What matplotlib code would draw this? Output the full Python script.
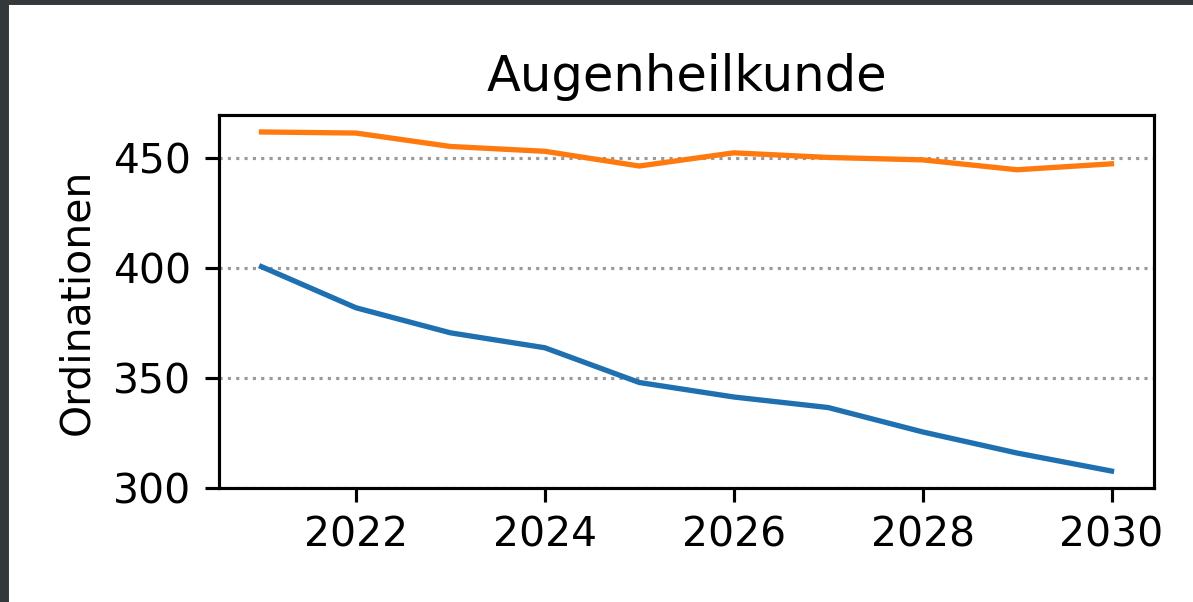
import matplotlib.pyplot as plt
from matplotlib.patches import Rectangle

jahre = [2021, 2022, 2023, 2024, 2025, 2026, 2027, 2028, 2029, 2030]
serie_blau = [400.5, 381.8, 370.4, 363.6, 347.8, 341.2, 336.4, 325.3, 315.7, 307.5]
serie_orange = [461.8, 461.3, 455.2, 453.0, 446.3, 452.3, 450.2, 449.1, 444.6, 447.3]

plt.rcParams['font.size'] = 10.4

DPI = 283
fig = plt.figure(figsize=(1193 / DPI, 602 / DPI), dpi=DPI)
ax = fig.add_axes([219 / 1193, 1 - 488 / 602, (1154 - 219) / 1193, (488 - 115) / 602])

ax.plot(jahre, serie_blau, color='#1f70b0', lw=1.35)
ax.plot(jahre, serie_orange, color='#ff7a0e', lw=1.35)
ax.set_title('Augenheilkunde', fontsize=12.6)
ax.set_ylabel('Ordinationen')
ax.set_xticks([2022, 2024, 2026, 2028, 2030])
ax.grid(axis='y', linestyle=':', color='#9a9a9a')

# dunkler Rand oben und links (Screenshot)
fig.patches.append(Rectangle((0, 0), 7 / 1193, 1, transform=fig.transFigure,
                             color='#33383b', zorder=10))
fig.patches.append(Rectangle((0, 1 - 3 / 602), 1, 3 / 602, transform=fig.transFigure,
                             color='#33383b', zorder=10))

fig.savefig('out.png', dpi=DPI)
